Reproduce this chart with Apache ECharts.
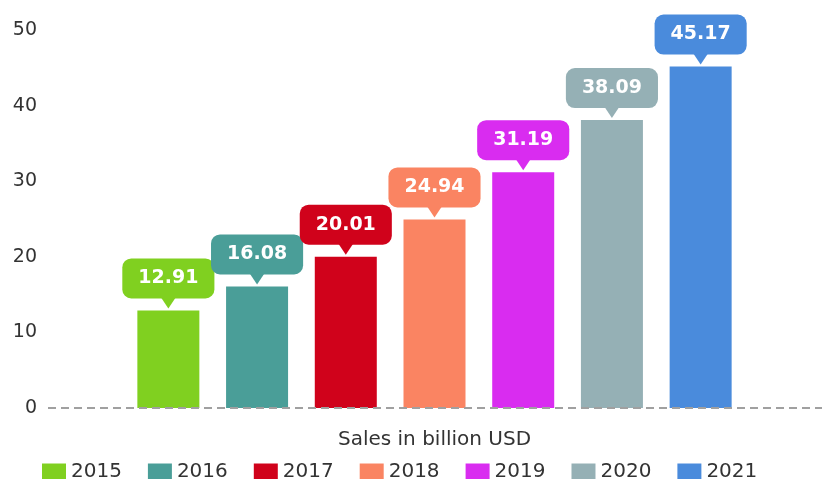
<!DOCTYPE html>
<html>
<head>
<meta charset="utf-8">
<title>Sales in billion USD</title>
<script src="https://cdn.jsdelivr.net/npm/echarts@6/dist/echarts.min.js"></script>
<style>
  html, body { margin: 0; padding: 0; background: #ffffff; }
  #chart { width: 822px; height: 479px; }
</style>
</head>
<body>
<div id="chart"></div>
<script>
// Annual sales, one bar per year
const years = ['2015', '2016', '2017', '2018', '2019', '2020', '2021'];
const sales = [12.91, 16.08, 20.01, 24.94, 31.19, 38.09, 45.17];
const yearColors = ['#80d020', '#4a9e98', '#d0021b', '#fa8462', '#d92cf0', '#95b0b5', '#4a8bdc'];
const yTicks = { min: 0, max: 50, interval: 10 };
const axisTitle = 'Sales in billion USD';

const FONT = 'DejaVu Sans, sans-serif';

// One series per year so each gets its own legend entry; stacking keeps
// every bar centred on its own category.
const series = years.map((year, i) => ({
  name: year,
  type: 'bar',
  stack: 'sales',
  barWidth: 62,
  itemStyle: { color: yearColors[i] },
  data: years.map((_, j) => (j === i ? sales[i] : null)),
  label: {
    show: true,
    position: 'top',
    distance: 12,
    formatter: () => sales[i].toFixed(2),
    color: '#ffffff',
    fontFamily: FONT,
    fontWeight: 'bold',
    fontSize: 19,
    lineHeight: 22,
    backgroundColor: yearColors[i],
    borderRadius: 9,
    padding: [9, 16]
  },
  // small pointer under each value bubble
  markPoint: {
    symbol: 'path://M0,0 L16,0 L8,12 Z',
    symbolSize: [16, 12],
    symbolOffset: [0, -8],
    itemStyle: { color: yearColors[i] },
    label: { show: false },
    silent: true,
    data: [{ coord: [year, sales[i]] }]
  }
}));

const chart = echarts.init(document.getElementById('chart'));
chart.setOption({
  animation: false,
  grid: { left: 124, right: 77, top: 30, bottom: 71 },
  legend: {
    data: years,
    left: 37,
    top: 457,
    itemWidth: 24,
    itemHeight: 17,
    itemGap: 26,
    icon: 'rect',
    textStyle: { fontFamily: FONT, fontSize: 20, color: '#333333' }
  },
  xAxis: {
    type: 'category',
    data: years,
    name: axisTitle,
    nameLocation: 'middle',
    nameGap: 22,
    nameTextStyle: { fontFamily: FONT, fontSize: 20, color: '#333333' },
    axisLine: { show: false },
    axisTick: { show: false },
    axisLabel: { show: false }
  },
  yAxis: {
    type: 'value',
    min: yTicks.min,
    max: yTicks.max,
    interval: yTicks.interval,
    axisLine: { show: false },
    axisTick: { show: false },
    splitLine: { show: false },
    axisLabel: {
      align: 'right',
      margin: 87,
      fontFamily: FONT,
      fontSize: 19,
      color: '#333333'
    }
  },
  series: series
});

// dashed baseline at zero, running past the plot area on both sides
const zeroY = Math.round(chart.convertToPixel({ yAxisIndex: 0 }, 0));
chart.setOption({
  graphic: [{
    type: 'line',
    z: 10,
    silent: true,
    shape: { x1: 48, y1: zeroY, x2: chart.getWidth(), y2: zeroY },
    style: { stroke: '#a0a0a0', lineWidth: 2, lineDash: [8, 5] }
  }]
});
</script>
</body>
</html>
